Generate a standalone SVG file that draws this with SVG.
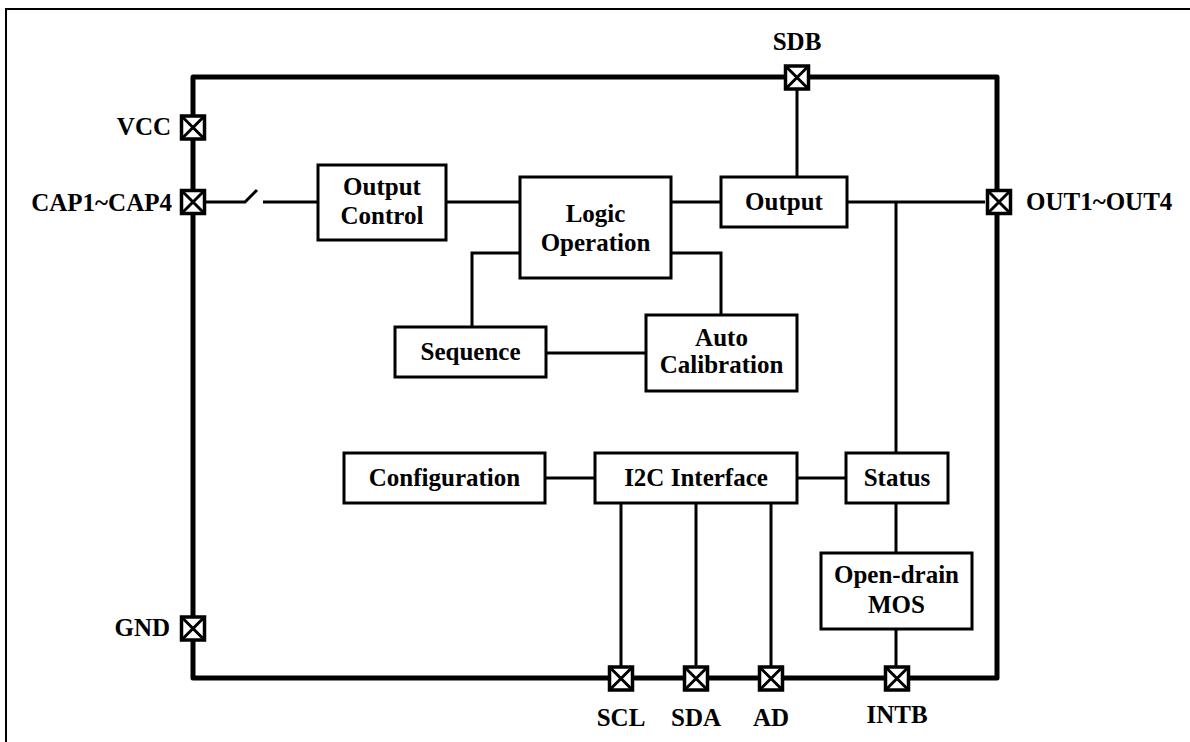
<svg xmlns="http://www.w3.org/2000/svg" width="1190" height="742" viewBox="0 0 1190 742">
<style>
text{font-family:"Liberation Serif","Times New Roman",serif;font-weight:bold;font-size:25px;fill:#000}
.c{text-anchor:middle}
.e{text-anchor:end}
.box{fill:#fff;stroke:#000;stroke-width:3}
.wire{fill:none;stroke:#000;stroke-width:3}
.chip{fill:none;stroke:#000;stroke-width:5;stroke-linejoin:round}
.pin rect{fill:#fff;stroke:#000;stroke-width:3.5}
.pin path{stroke:#000;stroke-width:3;fill:none}
</style>
<defs>
<g id="pinshape" class="pin"><rect x="-11.5" y="-11.5" width="23" height="23"/><path d="M-11.5,-11.5L11.5,11.5M11.5,-11.5L-11.5,11.5"/></g>
</defs>
<rect x="6" y="9" width="1250" height="800" fill="none" stroke="#000" stroke-width="2"/>
<rect id="chip" class="chip" x="193" y="77" width="804" height="601"/>
<g id="connectors">
<path class="wire" d="M206,202H245L257,190"/>
<path class="wire" d="M263,202H318"/>
<path class="wire" d="M446,202H520"/>
<path class="wire" d="M671,202H721"/>
<path class="wire" d="M797,90V177"/>
<path class="wire" d="M847,202H985"/>
<path class="wire" d="M896,202V453"/>
<path class="wire" d="M520,253H472V327"/>
<path class="wire" d="M671,253H721V315"/>
<path class="wire" d="M546,353H646"/>
<path class="wire" d="M545,478H595"/>
<path class="wire" d="M797,478H846"/>
<path class="wire" d="M896,503V553"/>
<path class="wire" d="M896,629V666"/>
<path class="wire" d="M621,503V666"/>
<path class="wire" d="M696,503V666"/>
<path class="wire" d="M771,503V666"/>
</g>
<g id="oc"><rect class="box" x="318" y="165" width="128" height="75"/><text class="c" x="382" y="195">Output</text><text class="c" x="382" y="224">Control</text></g>
<g id="logic"><rect class="box" x="520" y="177" width="151" height="101"/><text class="c" x="595.5" y="222">Logic</text><text class="c" x="595.5" y="251">Operation</text></g>
<g id="output"><rect class="box" x="721" y="177" width="126" height="50"/><text class="c" x="784" y="210">Output</text></g>
<g id="seq"><rect class="box" x="395" y="327" width="151" height="50"/><text class="c" x="470.5" y="360">Sequence</text></g>
<g id="autocal"><rect class="box" x="646" y="315" width="151" height="76"/><text class="c" x="721.5" y="346">Auto</text><text class="c" x="721.5" y="373">Calibration</text></g>
<g id="config"><rect class="box" x="344" y="453" width="201" height="50"/><text class="c" x="444.5" y="486">Configuration</text></g>
<g id="i2c"><rect class="box" x="595" y="453" width="202" height="50"/><text class="c" x="696" y="486">I2C Interface</text></g>
<g id="status"><rect class="box" x="846" y="453" width="102" height="50"/><text class="c" x="897" y="486">Status</text></g>
<g id="mos"><rect class="box" x="821" y="553" width="151" height="76"/><text class="c" x="896.5" y="583">Open-drain</text><text class="c" x="896.5" y="613">MOS</text></g>
<g id="pin-vcc"><use href="#pinshape" x="193" y="127.5"/><text class="e" x="171" y="135">VCC</text></g>
<g id="pin-cap"><use href="#pinshape" x="193" y="202"/><text class="e" x="172" y="211">CAP1~CAP4</text></g>
<g id="pin-gnd"><use href="#pinshape" x="193" y="628.5"/><text class="e" x="170" y="636">GND</text></g>
<g id="pin-sdb"><use href="#pinshape" x="797" y="77.5"/><text class="c" x="797" y="50">SDB</text></g>
<g id="pin-out"><use href="#pinshape" x="999" y="202"/><text x="1026" y="210">OUT1~OUT4</text></g>
<g id="pin-scl"><use href="#pinshape" x="621" y="678.5"/><text class="c" x="621" y="726">SCL</text></g>
<g id="pin-sda"><use href="#pinshape" x="696" y="678.5"/><text class="c" x="696" y="726">SDA</text></g>
<g id="pin-ad"><use href="#pinshape" x="771" y="678.5"/><text class="c" x="771" y="726">AD</text></g>
<g id="pin-intb"><use href="#pinshape" x="897" y="678.5"/><text class="c" x="897" y="723">INTB</text></g>
</svg>
